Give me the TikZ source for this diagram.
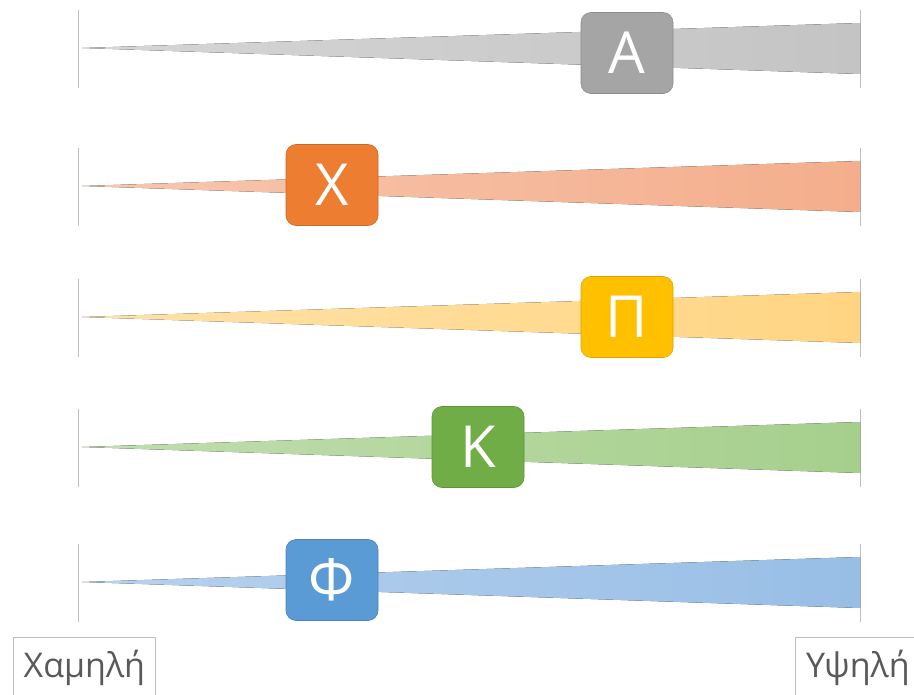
\documentclass[tikz,border=0pt]{standalone}
\usepackage{fontspec}
\setmainfont{Open Sans}
\definecolor{gA}{HTML}{A5A5A5}\definecolor{gAw}{HTML}{C4C4C4}
\definecolor{gX}{HTML}{ED7D31}\definecolor{gXw}{HTML}{F4AE8C}
\definecolor{gP}{HTML}{FFC000}\definecolor{gPw}{HTML}{FFD583}
\definecolor{gK}{HTML}{70AD47}\definecolor{gKw}{HTML}{A6CF8C}
\definecolor{gF}{HTML}{5B9BD5}\definecolor{gFw}{HTML}{98BEE6}
\definecolor{axis}{HTML}{BFBFBF}
\tikzset{
  lettbox/.style={rounded corners=10pt, minimum width=92pt, minimum height=81pt, inner sep=0pt,
    text=white, font=\fontsize{58}{58}\selectfont},
  endlabel/.style={draw=axis, line width=0.8pt, inner sep=0pt, anchor=north west,
    text=black!65, font=\fontsize{34}{34}\selectfont},
  tick/.style={draw=axis, line width=1pt}
}
\begin{document}
\begin{tikzpicture}[x=1pt,y=-1pt]
\useasboundingbox (0,0) rectangle (914,695);
% rows
\foreach \yc/\by/\wc/\bc/\bx/\nm/\lt in {48/53/gAw/gA/627/a/A, 186/185/gXw/gX/332/x/Χ, 317/317/gPw/gP/627/p/Π, 447/447/gKw/gK/478/k/Κ, 582/580/gFw/gF/332/f/Φ}{
  \coordinate (tl\nm) at (78,\yc-38);
  \coordinate (bl\nm) at (78,\yc+40);
  \coordinate (tr\nm) at (860,\yc-38);
  \coordinate (br\nm) at (860,\yc+40);
  \draw[tick] (tl\nm) -- (bl\nm);
  \draw[tick] (tr\nm) -- (br\nm);
  \coordinate (tip\nm) at (82,\yc);
  \coordinate (up\nm) at (860,\yc-25);
  \coordinate (dn\nm) at (860,\yc+26);
  \fill[left color=\wc!70!white, right color=\wc] (tip\nm) -- (up\nm) -- (dn\nm) -- cycle;
  \node[lettbox, fill=\bc, draw=\bc!85!black, line width=0.6pt] (box\nm) at (\bx,\by) {\lt};
}
\node[endlabel, minimum width=142pt, minimum height=60pt] (low) at (13,637) {Χαμηλή};
\node[endlabel, minimum width=125pt, minimum height=60pt] (high) at (795,637) {Υψηλή};
\end{tikzpicture}
\end{document}
